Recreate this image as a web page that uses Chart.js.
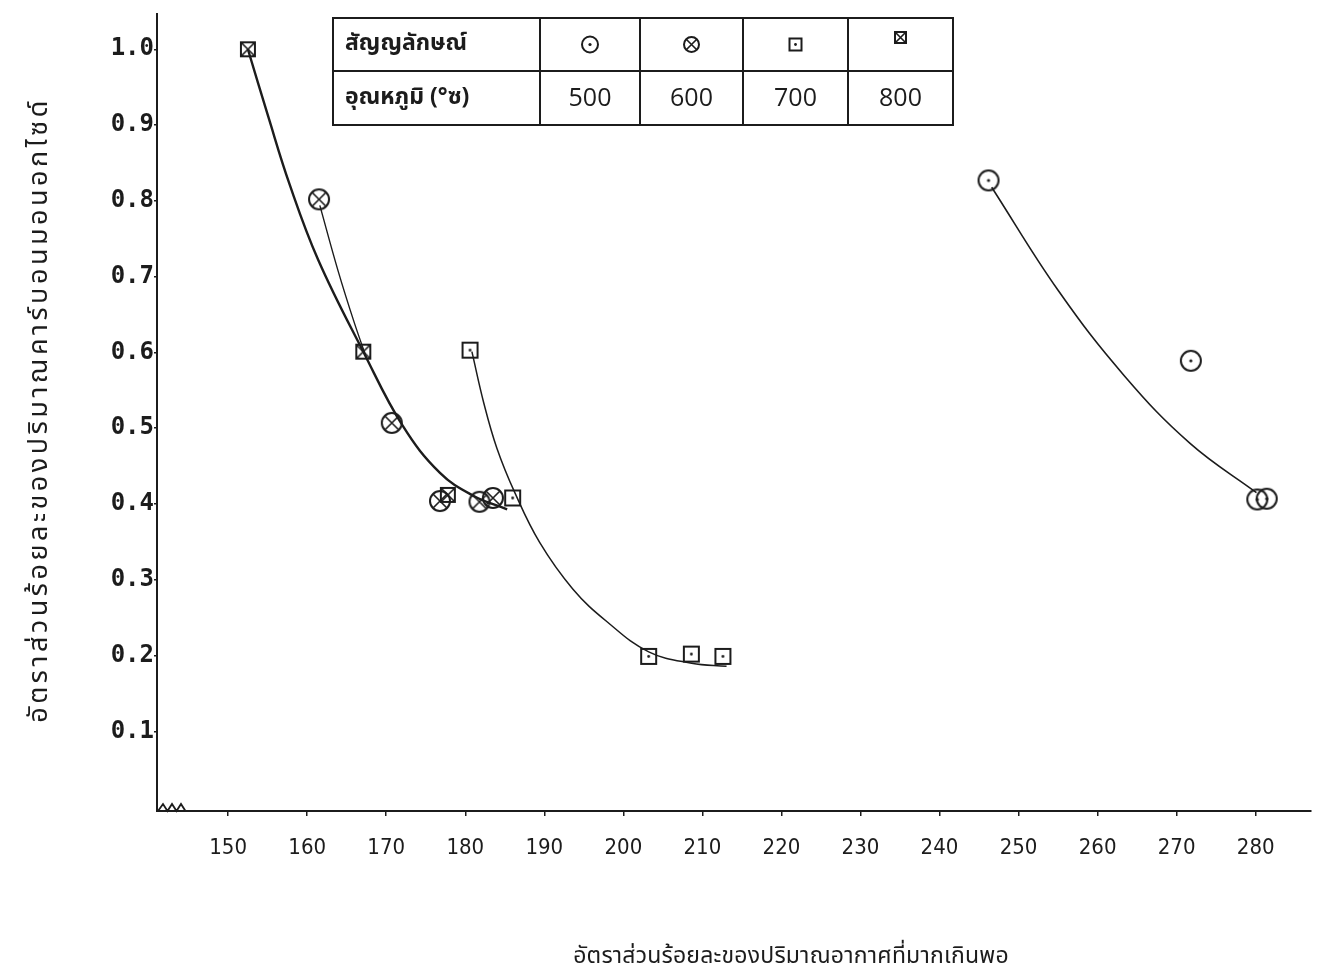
<!DOCTYPE html>
<html>
<head>
<meta charset="utf-8">
<script src="https://cdn.jsdelivr.net/npm/chart.js@4.4.1/dist/chart.umd.min.js"></script>
<style>
  html, body { margin: 0; padding: 0; background: #ffffff; }
  #wrap { width: 1324px; height: 977px; position: relative; }
</style>
</head>
<body>
<div id="wrap"><canvas id="c" width="1324" height="977"></canvas></div>
<script>
// ---------- data ----------
const xTickValues = [150, 160, 170, 180, 190, 200, 210, 220, 230, 240, 250, 260, 270, 280];
const yTickValues = [0.1, 0.2, 0.3, 0.4, 0.5, 0.6, 0.7, 0.8, 0.9, 1.0];

const legendHeaders = ['สัญญลักษณ์', 'อุณหภูมิ (°ซ)'];
const legendTemps = ['500', '600', '700', '800'];

// measured points
const t500X = [246.2, 271.8, 280.2, 281.4];
const t500Y = [0.827, 0.589, 0.406, 0.407];
const t600X = [161.5, 170.7, 176.8, 181.8, 183.5];
const t600Y = [0.802, 0.507, 0.404, 0.403, 0.408];
const t700X = [180.6, 186.0, 203.2, 208.6, 212.6];
const t700Y = [0.603, 0.408, 0.199, 0.202, 0.199];
const t800X = [152.5, 167.1, 177.8];
const t800Y = [1.0, 0.601, 0.412];

// hand-drawn fitted curves
const fit500X = [246.6, 255.0, 263.4, 271.7, 280.1];
const fit500Y = [0.818, 0.682, 0.569, 0.480, 0.415];
const fit600X = [161.6, 163.9, 166.0, 167.6];
const fit600Y = [0.794, 0.708, 0.638, 0.590];
const fit700X = [180.84, 182.35, 183.99, 186.27, 189.43, 193.60, 197.90, 203.21, 208.64, 213.06];
const fit700Y = [0.601, 0.533, 0.474, 0.415, 0.349, 0.288, 0.245, 0.205, 0.190, 0.186];
const fit800X = [152.5, 155.05, 157.8, 161.4, 167.1, 172.1, 176.8, 181.0, 185.3];
const fit800Y = [1.0, 0.912, 0.821, 0.722, 0.601, 0.503, 0.441, 0.411, 0.393];

const xTitle = 'อัตราส่วนร้อยละของปริมาณอากาศที่มากเกินพอ';
const yTitle = 'อัตราส่วนร้อยละของปริมาณคาร์บอนมอนอกไซด์';

// ---------- helpers ----------
const INK = '#1c1c1c';
const THAI = "'Noto Sans Thai', 'Loma', 'Garuda', 'Norasi', 'Tlwg Typist', 'DejaVu Sans', sans-serif";
const zip = (xs, ys) => xs.map((x, i) => ({ x: x, y: ys[i] }));

function drawSymbol(ctx, kind, cx, cy, s) {
  ctx.save();
  ctx.strokeStyle = INK;
  ctx.fillStyle = INK;
  ctx.lineWidth = 2;
  if (kind === 'circleDot' || kind === 'circleX') {
    const r = s / 2;
    ctx.beginPath(); ctx.arc(cx, cy, r, 0, Math.PI * 2); ctx.stroke();
    if (kind === 'circleDot') {
      ctx.beginPath(); ctx.arc(cx, cy, 1.6, 0, Math.PI * 2); ctx.fill();
    } else {
      const d = r * 0.7;
      ctx.lineWidth = 1.6;
      ctx.beginPath();
      ctx.moveTo(cx - d, cy - d); ctx.lineTo(cx + d, cy + d);
      ctx.moveTo(cx + d, cy - d); ctx.lineTo(cx - d, cy + d);
      ctx.stroke();
    }
  } else {
    const h = s / 2;
    ctx.strokeRect(cx - h, cy - h, s, s);
    if (kind === 'squareDot') {
      ctx.beginPath(); ctx.arc(cx, cy, 1.4, 0, Math.PI * 2); ctx.fill();
    } else {
      ctx.lineWidth = 1.6;
      ctx.beginPath();
      ctx.moveTo(cx - h, cy - h); ctx.lineTo(cx + h, cy + h);
      ctx.moveTo(cx + h, cy - h); ctx.lineTo(cx - h, cy + h);
      ctx.stroke();
    }
  }
  ctx.restore();
}

function makeMarker(kind, s) {
  const c = document.createElement('canvas');
  const pad = 4;
  c.width = s + pad * 2; c.height = s + pad * 2;
  drawSymbol(c.getContext('2d'), kind, c.width / 2, c.height / 2, s);
  return c;
}

const mk500 = makeMarker('circleDot', 20);
const mk600 = makeMarker('circleX', 20);
const mk700 = makeMarker('squareDot', 15);
const mk800 = makeMarker('squareX', 14);

// ---------- extras: table legend, axis break, titles ----------
const extras = {
  id: 'extras',
  afterDraw(chart) {
    const ctx = chart.ctx;
    const xa = chart.scales.x, ya = chart.scales.y;
    ctx.save();

    // legend table
    const L = 333, R = 953, T = 18, M = 71, B = 125;
    const cols = [L, 540, 640, 743, 848, R];
    ctx.strokeStyle = INK; ctx.lineWidth = 2;
    ctx.strokeRect(L, T, R - L, B - T);
    ctx.beginPath(); ctx.moveTo(L, M); ctx.lineTo(R, M); ctx.stroke();
    for (let i = 1; i < cols.length - 1; i++) {
      ctx.beginPath(); ctx.moveTo(cols[i], T); ctx.lineTo(cols[i], B); ctx.stroke();
    }
    ctx.fillStyle = INK;
    ctx.textBaseline = 'middle';
    ctx.textAlign = 'left';
    ctx.font = 'bold 23px ' + THAI;
    ctx.fillText(legendHeaders[0], 345, (T + M) / 2 + 1);
    ctx.fillText(legendHeaders[1], 345, (M + B) / 2 + 1);
    const kinds = ['circleDot', 'circleX', 'squareDot', 'squareX'];
    const sizes = [16, 15, 12, 11];
    ctx.textAlign = 'center';
    ctx.font = '25px "Open Sans", "DejaVu Sans", sans-serif';
    for (let i = 0; i < 4; i++) {
      const cx = (cols[i + 1] + cols[i + 2]) / 2;
      drawSymbol(ctx, kinds[i], cx, (T + M) / 2 + (i === 3 ? -7 : 0), sizes[i]);
      ctx.fillText(legendTemps[i], cx, (M + B) / 2 + 1);
    }

    // axis break zig-zag near origin
    const y0 = ya.bottom;
    ctx.lineWidth = 1.8;
    ctx.beginPath();
    ctx.moveTo(xa.left + 1, y0);
    const zx = xa.left + 6;
    for (let k = 0; k < 6; k++) {
      ctx.lineTo(zx + k * 4.5, y0 + (k % 2 === 0 ? -7 : 0));
    }
    ctx.lineTo(zx + 27, y0);
    ctx.stroke();

    // axis titles
    ctx.fillStyle = INK;
    ctx.textAlign = 'center';
    ctx.textBaseline = 'middle';
    ctx.font = '23px ' + THAI;
    if ('letterSpacing' in ctx) ctx.letterSpacing = '0.2px';
    ctx.fillText(xTitle, 791, 958);
    ctx.font = '27px ' + THAI;
    if ('letterSpacing' in ctx) ctx.letterSpacing = '3.5px';
    ctx.translate(42, 410);
    ctx.rotate(-Math.PI / 2);
    ctx.fillText(yTitle, 0, 0);
    ctx.restore();
  }
};

// ---------- chart ----------
const curveStyle = (w) => ({
  showLine: true, pointRadius: 0, borderColor: INK, borderWidth: w,
  tension: 0.4, fill: false
});

new Chart(document.getElementById('c'), {
  type: 'scatter',
  data: {
    datasets: [
      Object.assign({ label: 'fit 800', data: zip(fit800X, fit800Y) }, curveStyle(2.4)),
      Object.assign({ label: 'fit 600', data: zip(fit600X, fit600Y) }, curveStyle(1.4)),
      Object.assign({ label: 'fit 700', data: zip(fit700X, fit700Y) }, curveStyle(1.5)),
      Object.assign({ label: 'fit 500', data: zip(fit500X, fit500Y) }, curveStyle(1.6)),
      { label: '500', data: zip(t500X, t500Y), pointStyle: mk500, pointRadius: 12, showLine: false },
      { label: '600', data: zip(t600X, t600Y), pointStyle: mk600, pointRadius: 12, showLine: false },
      { label: '700', data: zip(t700X, t700Y), pointStyle: mk700, pointRadius: 10, showLine: false },
      { label: '800', data: zip(t800X, t800Y), pointStyle: mk800, pointRadius: 10, showLine: false }
    ]
  },
  options: {
    responsive: false,
    devicePixelRatio: 1,
    animation: false,
    layout: { padding: { top: 6, right: 12, left: 0, bottom: 0 } },
    plugins: { legend: { display: false }, tooltip: { enabled: false } },
    scales: {
      x: {
        type: 'linear', min: 141.0, max: 287.0,
        afterFit(s) { s.height = 166; },
        afterBuildTicks(s) { s.ticks = xTickValues.map(v => ({ value: v })); },
        grid: { drawOnChartArea: false, drawTicks: true, tickLength: 5, color: INK, lineWidth: 1.5 },
        border: { display: true, color: INK, width: 2 },
        ticks: {
          color: INK, padding: 19, maxRotation: 0, autoSkip: false,
          font: { family: "'DejaVu Sans Condensed', 'Liberation Sans Narrow', 'DejaVu Sans', sans-serif", size: 22 },
          callback: v => String(v)
        }
      },
      y: {
        type: 'linear', min: -0.005, max: 1.046,
        afterFit(s) { s.width = 157; },
        afterBuildTicks(s) { s.ticks = yTickValues.map(v => ({ value: v })); },
        grid: { drawOnChartArea: false, drawTicks: true, tickLength: 3, color: INK, lineWidth: 1.5 },
        border: { display: true, color: INK, width: 2 },
        ticks: {
          color: INK, padding: 0, autoSkip: false,
          font: { family: "'DejaVu Sans Mono', 'Liberation Mono', monospace", size: 24, weight: 'bold' },
          callback: v => v.toFixed(1)
        }
      }
    }
  },
  plugins: [extras]
});
</script>
</body>
</html>
